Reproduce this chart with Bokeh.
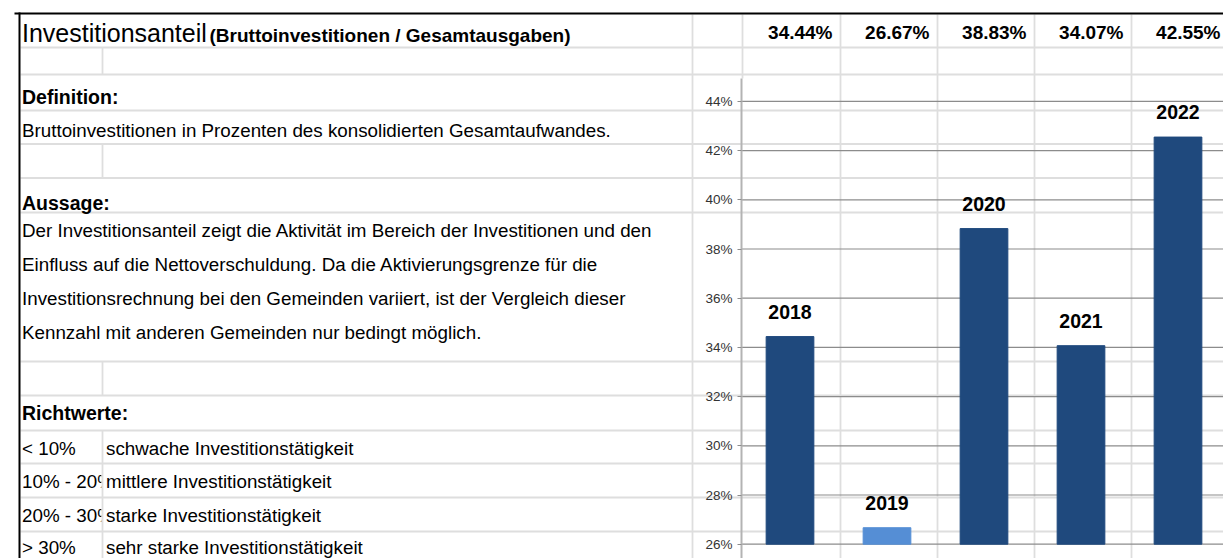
from bokeh.plotting import figure
from bokeh.models import Range1d, LinearAxis, FixedTicker, PrintfTickFormatter
from bokeh.core.properties import value
from bokeh.embed import file_html
from bokeh.resources import INLINE

# ---------------- data ----------------
years = ["2018", "2019", "2020", "2021", "2022"]
shares = [34.44, 26.67, 38.83, 34.07, 42.55]          # Investitionsanteil in %
tick_values = [26, 28, 30, 32, 34, 36, 38, 40, 42, 44]
axis_min = 26

title_main = "Investitionsanteil"
title_sub = "(Bruttoinvestitionen / Gesamtausgaben)"
head_def = "Definition:"
text_def = "Bruttoinvestitionen in Prozenten des konsolidierten Gesamtaufwandes."
head_aus = "Aussage:"
text_aus = [
    "Der Investitionsanteil zeigt die Aktivität im Bereich der Investitionen und den",
    "Einfluss auf die Nettoverschuldung. Da die Aktivierungsgrenze für die",
    "Investitionsrechnung bei den Gemeinden variiert, ist der Vergleich dieser",
    "Kennzahl mit anderen Gemeinden nur bedingt möglich.",
]
head_richt = "Richtwerte:"
richt_range = ["< 10%", "10% - 20%", "20% - 30%", "> 30%"]
richt_desc = ["schwache Investitionstätigkeit", "mittlere Investitionstätigkeit",
              "starke Investitionstätigkeit", "sehr starke Investitionstätigkeit"]

# ---------------- layout / style ----------------
W, H = 1223, 558
FONT = "Liberation Sans"
PLOT_LEFT = 741            # chart y-axis position (px)
CAT_W = 97.0               # category width in px
Y0_PX = 543.7              # y pixel of 26 %
PX_PER_PCT = 24.6

BAR_DARK = "#1F497D"
BAR_LIGHT = "#558ED5"
bar_colors = [BAR_LIGHT if v == min(shares) else BAR_DARK for v in shares]
SHEET_LINE = "#dedede"
BODY = "18.8px"
BOLD = "19.5px"

pct_bottom = axis_min - (H - Y0_PX) / PX_PER_PCT
pct_top = axis_min + Y0_PX / PX_PER_PCT

p = figure(width=W, height=H, x_range=Range1d(0, W), y_range=Range1d(H, 0),
           output_backend="svg", toolbar_location=None,
           x_axis_type=None, y_axis_type=None, min_border=0,
           outline_line_color=None, background_fill_color="white",
           border_fill_color="white")
p.extra_x_ranges = {"cat": Range1d(-PLOT_LEFT / CAT_W, (W - PLOT_LEFT) / CAT_W)}
p.extra_y_ranges = {"pct": Range1d(pct_bottom, pct_top)}

def txt(x, y, t, size, bold=False, align="left", color="#000000"):
    p.text(x=[x], y=[y], text=[t], text_font=value(FONT), text_font_size=size,
           text_font_style="bold" if bold else "normal", text_align=align,
           text_baseline="middle", text_color=color)

# ---- Richtwerte first column (clipped by neighbouring cell) ----
richt_mid = [448, 481, 515, 546.5]
for t, m in zip(richt_range, richt_mid):
    txt(21.5, m, t, BODY)
p.quad(left=[101], right=[400], top=[464], bottom=[530],
       fill_color="white", line_color=None)

# ---- spreadsheet grid ----
h_rows = [47, 74, 110, 143.5, 177.5, 212, 361, 395, 430, 463, 497, 531]
p.segment(x0=[20] * len(h_rows), x1=[W] * len(h_rows), y0=h_rows, y1=h_rows,
          line_color=SHEET_LINE, line_width=1.8)
v_full = [692, 840, 937, 1034, 1131]
p.segment(x0=v_full, x1=v_full, y0=[14] * len(v_full), y1=[H] * len(v_full),
          line_color=SHEET_LINE, line_width=1.8)
v_part = [(742, 14, 78), (102, 47, 74), (102, 143.5, 177.5), (102, 361, 395), (102, 430, 558)]
p.segment(x0=[a for a, b, c in v_part], x1=[a for a, b, c in v_part],
          y0=[b for a, b, c in v_part], y1=[c for a, b, c in v_part],
          line_color=SHEET_LINE, line_width=1.8)
# black frame lines
p.segment(x0=[14, 19], x1=[W, 19], y0=[13, 12], y1=[13, H],
          line_color="#000000", line_width=2)

# ---- texts ----
txt(21.5, 32.5, title_main, "25px")
txt(209, 34.5, title_sub, "19px", bold=True)
txt(21.5, 96, head_def, BOLD, bold=True)
txt(21.5, 130, text_def, BODY)
txt(21.5, 202, head_aus, BOLD, bold=True)
for t, m in zip(text_aus, [229.5, 263.5, 298, 332]):
    txt(21.5, m, t, BODY)
txt(21.5, 412, head_richt, BOLD, bold=True)
for t, m in zip(richt_desc, richt_mid):
    txt(105.5, m, t, BODY)

# ---- chart ----
idx = list(range(len(years)))
centers = [i + 0.5 for i in idx]
p.segment(x0=[0] * len(tick_values), x1=[len(years)] * len(tick_values),
          y0=tick_values, y1=tick_values, x_range_name="cat", y_range_name="pct",
          line_color="#8c8c8c", line_width=1.2)
p.vbar(x=centers, top=shares, bottom=axis_min, width=47.7 / CAT_W, fill_color=bar_colors,
       line_color=bar_colors, x_range_name="cat", y_range_name="pct")
p.text(x=centers, y=shares, text=years, x_range_name="cat", y_range_name="pct",
       y_offset=-25, text_font=value(FONT), text_font_size="19.5px", text_font_style="bold",
       text_align="center", text_baseline="middle", text_color="#000000")
p.text(x=[i + 1 for i in idx], y=[32] * len(years), text=[f"{v:.2f}%" for v in shares],
       x_range_name="cat", x_offset=-6, text_font=value(FONT), text_font_size="19px",
       text_font_style="bold", text_align="right", text_baseline="middle",
       text_color="#000000")

yaxis = LinearAxis(y_range_name="pct", x_range_name="cat", fixed_location=0,
                   bounds=(pct_bottom, axis_min + (Y0_PX - 78) / PX_PER_PCT),
                   ticker=FixedTicker(ticks=tick_values),
                   formatter=PrintfTickFormatter(format="%d%%"))
yaxis.axis_line_color = "#b3b3b3"
yaxis.axis_line_width = 2
yaxis.major_tick_line_color = "#8c8c8c"
yaxis.major_tick_out = 4
yaxis.major_tick_in = 0
yaxis.minor_tick_line_color = None
yaxis.major_label_text_font = FONT
yaxis.major_label_text_font_size = "13.5px"
yaxis.major_label_text_color = "#333333"
yaxis.major_label_standoff = 5
p.add_layout(yaxis, "left")

open("out.html", "w").write(file_html(p, INLINE))
